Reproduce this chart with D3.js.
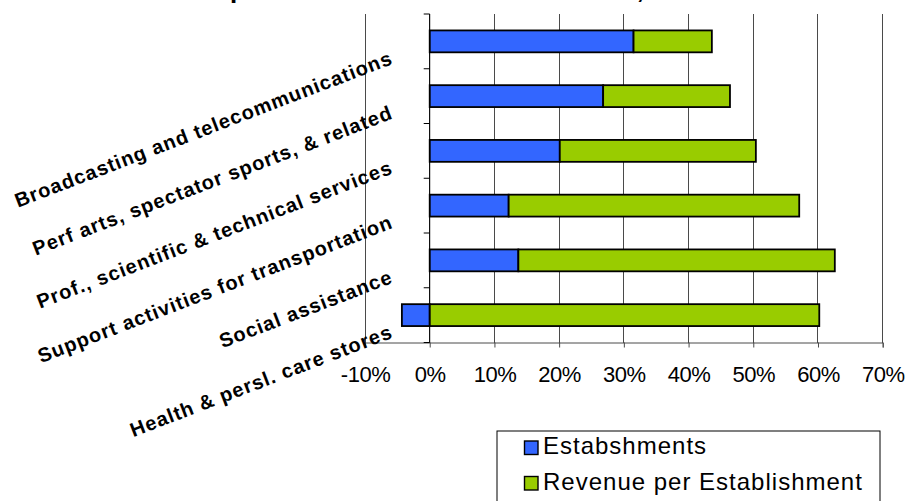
<!DOCTYPE html>
<html>
<head>
<meta charset="utf-8">
<script src="https://cdn.jsdelivr.net/npm/d3@7"></script>
<style>
  html, body { margin: 0; padding: 0; background: #fff; }
  svg { display: block; font-family: Arial, "Liberation Sans", sans-serif; }
</style>
</head>
<body>
<svg id="chart" width="918" height="501"></svg>
<script>
// Industry categories, top to bottom
const categories = [
  "Broadcasting and telecommunications",
  "Perf arts, spectator sports, & related",
  "Prof., scientific & technical services",
  "Support activities for transportation",
  "Social assistance",
  "Health & persl. care stores"
];
// Contribution of growth in number of establishments
const establishments = [0.315, 0.268, 0.201, 0.122, 0.137, -0.043];
// Contribution of growth in revenue per establishment
const revenuePerEst = [0.121, 0.196, 0.303, 0.449, 0.489, 0.602];
// Axis ticks
const xTicks = [-0.1, 0, 0.1, 0.2, 0.3, 0.4, 0.5, 0.6, 0.7];
const seriesNames = ["Estabshments", "Revenue per Establishment"];
const seriesColors = ["#3366FF", "#99CC00"];
const title = "Components of Revenue Growth, 1997-2002";

const FONT = "Arial, 'Liberation Sans', sans-serif";
const svg = d3.select("#chart");

const plot = { left: 365, right: 882.7, top: 14, bottom: 342.5 };

const x = d3.scaleLinear().domain([-0.1, 0.7]).range([plot.left, plot.right]);
const y = d3.scaleBand().domain(categories).range([plot.top, plot.bottom])
  .paddingInner(0.6).paddingOuter(0.3);

// Title (sits at the very top edge of the canvas)
svg.append("text")
  .attr("x", 165).attr("y", -2.5)
  .attr("font-family", FONT)
  .attr("font-size", 26).attr("font-weight", "bold")
  .attr("letter-spacing", 2.4)
  .attr("fill", "#000")
  .text(title);

// Vertical gridlines
svg.append("g").selectAll("line").data(xTicks).join("line")
  .attr("x1", d => x(d)).attr("x2", d => x(d))
  .attr("y1", plot.top).attr("y2", plot.bottom)
  .attr("stroke", "#4a4a4a").attr("stroke-width", 1)
  .attr("shape-rendering", "crispEdges");

// Stacked bars (negative values extend left of zero)
const rows = categories.map((c, i) => ({ cat: c, est: establishments[i], rev: revenuePerEst[i] }));
const stack = d3.stack().keys(["est", "rev"]).offset(d3.stackOffsetDiverging);
const layers = stack(rows);

svg.append("g").selectAll("g").data(layers).join("g")
  .attr("fill", (d, i) => seriesColors[i])
  .selectAll("rect").data(d => d).join("rect")
  .attr("x", d => x(Math.min(d[0], d[1])))
  .attr("width", d => Math.abs(x(d[1]) - x(d[0])))
  .attr("y", d => y(d.data.cat))
  .attr("height", y.bandwidth())
  .attr("stroke", "#000").attr("stroke-width", 1.8);

// Bottom x axis
const pct = d => Math.round(d * 100) + "%";
const xAxis = d3.axisBottom(x).tickValues(xTicks).tickFormat(pct)
  .tickSize(5).tickPadding(3);
const gx = svg.append("g").attr("transform", `translate(0,${plot.bottom})`).call(xAxis);
gx.select(".domain").attr("stroke", "#4a4a4a");
gx.selectAll(".tick line").attr("stroke", "#4a4a4a");
gx.selectAll(".tick text")
  .attr("font-size", 22).attr("font-family", FONT)
  .attr("letter-spacing", -0.5)
  .attr("fill", "#000").attr("dy", null).attr("y", 39.5);

// Category axis at zero with ticks between categories
const zeroX = x(0);
svg.append("line")
  .attr("x1", zeroX).attr("x2", zeroX)
  .attr("y1", plot.top).attr("y2", plot.bottom)
  .attr("stroke", "#000").attr("stroke-width", 1);
const bounds = d3.range(categories.length + 1).map(i => plot.top + i * y.step());
svg.append("g").selectAll("line").data(bounds).join("line")
  .attr("x1", zeroX - 6).attr("x2", zeroX)
  .attr("y1", d => d).attr("y2", d => d)
  .attr("stroke", "#000").attr("stroke-width", 1);

// Rotated category labels
svg.append("g").selectAll("text").data(categories).join("text")
  .attr("transform", d => `translate(394,${y(d) + y.bandwidth() / 2 + 22}) rotate(-21)`)
  .attr("text-anchor", "end")
  .attr("font-family", FONT)
  .attr("font-size", 20).attr("font-weight", "bold")
  .attr("letter-spacing", 1.0)
  .attr("fill", "#000")
  .text(d => d);

// Legend
const legend = svg.append("g");
legend.append("rect")
  .attr("x", 497).attr("y", 431).attr("width", 383).attr("height", 100)
  .attr("fill", "#fff").attr("stroke", "#000").attr("stroke-width", 1);
const items = legend.selectAll("g.item").data(seriesNames).join("g")
  .attr("class", "item")
  .attr("transform", (d, i) => `translate(0,${i * 35.5})`);
items.append("rect")
  .attr("x", 524.5).attr("y", 441).attr("width", 13.5).attr("height", 13.5)
  .attr("fill", (d, i) => seriesColors[i])
  .attr("stroke", "#000").attr("stroke-width", 1.4);
items.append("text")
  .attr("x", 543).attr("y", 454)
  .attr("font-family", FONT)
  .attr("font-size", 24).attr("letter-spacing", 1.0)
  .attr("fill", "#000")
  .text(d => d);
</script>
</body>
</html>
